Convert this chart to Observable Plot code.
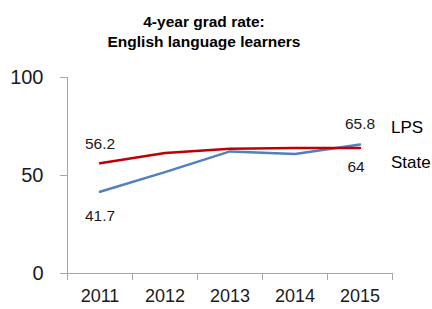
<!DOCTYPE html>
<html><head><meta charset="utf-8">
<script src="https://cdn.jsdelivr.net/npm/d3@7"></script>
<script src="https://cdn.jsdelivr.net/npm/@observablehq/plot@0.6"></script>
<style>
body{margin:0;background:#fff;}
#wrap{position:relative;width:432px;height:309px;overflow:hidden;font-family:"Liberation Sans",Arial,sans-serif;background:#fff;}
#title{position:absolute;left:0;width:408px;top:12px;text-align:center;font-weight:bold;font-size:15.5px;line-height:20px;color:#000;z-index:2;}
#wrap svg{position:absolute;left:0;top:0;}
#wrap svg [aria-label="y-axis tick"] path, #wrap svg [aria-label="x-axis tick"] path,
#wrap svg [aria-label="y-axis"] line, #wrap svg [aria-label="x-axis"] line {stroke:#a6a6a6;}
#wrap svg [aria-label="y-axis"] path.domain, #wrap svg [aria-label="x-axis"] path.domain {display:none;}
</style></head><body>
<div id="wrap"><div id="title">4-year grad rate:<br>English language learners</div></div>
<script>
const years = [2011, 2012, 2013, 2014, 2015];
const lps = [41.7, 51.7, 62.3, 61.0, 65.8];
const state = [56.2, 61.5, 63.7, 64.0, 64.0];
const yTicks = [0, 50, 100];
const seriesNames = ["LPS", "State"];

const data = years.map((yr, i) => ({year: yr, lps: lps[i], state: state[i]}));
const edges = years.map(y => y - 0.5).concat([years[years.length - 1] + 0.5]);
const first = data[0], last = data[data.length - 1];
const font = "'Liberation Sans', Arial, sans-serif";
const gray = "#a6a6a6";

const chart = Plot.plot({
  width: 432, height: 309,
  marginLeft: 67, marginRight: 40, marginTop: 77, marginBottom: 36,
  style: {fontFamily: font, fontSize: "20px", background: "transparent", color: "#1a1a1a", overflow: "visible"},
  x: {type: "linear", domain: [edges[0], edges[edges.length - 1]], ticks: edges, tickFormat: () => "", tickSize: 7, label: null},
  y: {domain: [0, 100], ticks: yTicks, tickSize: 7, tickPadding: 17, tickFormat: d => String(d), label: null},
  marks: [
    Plot.ruleX([edges[0]], {y1: 0, y2: 100, stroke: gray, strokeWidth: 1}),
    Plot.ruleY([0], {stroke: gray, strokeWidth: 1}),
    Plot.line(data, {x: "year", y: "lps", stroke: "#4f81bd", strokeWidth: 2.5}),
    Plot.line(data, {x: "year", y: "state", stroke: "#c00000", strokeWidth: 2.5}),
    Plot.text([first], {x: "year", y: "state", text: d => String(d.state), dy: -19.5, fontSize: 15.5, fill: "#1a1a1a"}),
    Plot.text([first], {x: "year", y: "lps", text: d => String(d.lps), dy: 24, fontSize: 15.5, fill: "#1a1a1a"}),
    Plot.text([last], {x: "year", y: "lps", text: d => String(d.lps), dy: -21, fontSize: 15.5, fill: "#1a1a1a"}),
    Plot.text([last], {x: "year", y: "state", text: d => String(d.state), dy: 18.5, dx: -4, fontSize: 15.5, fill: "#1a1a1a"}),
    Plot.text([last], {x: "year", y: "lps", text: () => seriesNames[0], dx: 31, dy: -17, textAnchor: "start", fontSize: 17, fill: "#000"}),
    Plot.text([last], {x: "year", y: "state", text: () => seriesNames[1], dx: 31, dy: 14.5, textAnchor: "start", fontSize: 17, fill: "#000"}),
    Plot.text(years, {x: d => d, text: d => String(d), frameAnchor: "bottom", dy: 28.5, fontSize: 18, fill: "#1a1a1a"})
  ]
});
document.getElementById("wrap").appendChild(chart);
</script>
</body></html>
